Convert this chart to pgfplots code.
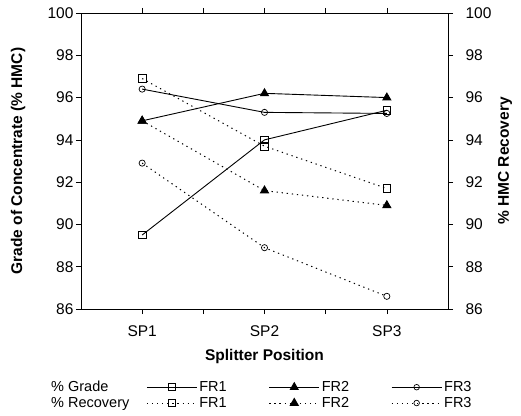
\documentclass[border=0pt]{standalone}
\usepackage{fontspec}
\setmainfont{Liberation Sans}
\usepackage{pgfplots}
\pgfplotsset{compat=1.18}
\begin{document}
\begin{tikzpicture}[x=1pt,y=1pt]
\useasboundingbox (-81,-106) rectangle (440,309);
\pgfplotsset{
  common/.style={
    scale only axis, width=367pt, height=296pt,
    at={(0,0)}, anchor=south west,
    xmin=0.5, xmax=3.5, ymin=86, ymax=100,
    ytick={86,88,...,100},
    tick align=outside, major tick length=5pt, minor tick length=5pt,
    tick style={black, line width=0.6pt},
    axis line style={line width=0.9pt},
    /pgf/number format/assume math mode=true,
    tick label style={font=\fontsize{15.5}{17}\selectfont},
    label style={font=\fontsize{15.5}{18}\selectfont\bfseries},
  },
}
\begin{axis}[common,
  axis y line*=left, axis x line*=box,
  xtick={1,2,3}, xticklabels={SP1,SP2,SP3},
  minor xtick={1.5,2.5},
  xticklabel style={yshift=-8pt},
  xlabel={Splitter Position},
  xlabel style={at={(rel axis cs:0.5,0)}, anchor=center, yshift=-47pt},
  ylabel={Grade of Concentrate (\% HMC)},
  ylabel style={at={(rel axis cs:0,0.5)}, anchor=center, yshift=63pt},
  yticklabel style={xshift=1pt},
  legend columns=4,
  legend cell align=left,
  legend style={draw=none, fill=none, at={(-35pt,-68pt)}, anchor=north west,
    font=\fontsize{14.5}{16}\selectfont, row sep=0pt,
    /tikz/column 2/.style={column sep=15pt},
    /tikz/column 4/.style={column sep=40pt},
    /tikz/column 6/.style={column sep=40pt}},
  legend image code/.code={
    \draw[#1, mark repeat=2, mark phase=2] plot coordinates {(0pt,0pt) (25pt,0pt) (50pt,0pt)};},
]
% % Grade (solid)
\addplot[black, line width=0.9pt, mark=square, mark size=3.7pt, mark options={solid, fill=white, line width=0.7pt}, forget plot]
  coordinates {(1,89.5) (2,94.0) (3,95.4)};
\addplot[black, line width=0.9pt, mark=triangle*, mark size=4.5pt, mark options={solid, fill=black}, forget plot]
  coordinates {(1,94.9) (2,96.2) (3,96.0)};
\addplot[black, line width=0.9pt, mark=o, mark size=3.1pt, mark options={solid, fill=white, line width=0.7pt}, forget plot]
  coordinates {(1,96.4) (2,95.3) (3,95.25)};
% % Recovery (dotted)
\addplot[black, line width=1pt, dash pattern=on 1.3pt off 3.8pt, mark=square, mark size=3.7pt, mark options={solid, fill=white, line width=0.7pt}, forget plot]
  coordinates {(1,96.9) (2,93.7) (3,91.7)};
\addplot[black, line width=1pt, dash pattern=on 1.3pt off 3.8pt, mark=triangle*, mark size=4.5pt, mark options={solid, fill=black}, forget plot]
  coordinates {(1,94.9) (2,91.6) (3,90.9)};
\addplot[black, line width=1pt, dash pattern=on 1.3pt off 3.8pt, mark=o, mark size=3.1pt, mark options={solid, fill=white, line width=0.7pt}, forget plot]
  coordinates {(1,92.9) (2,88.9) (3,86.6)};
% legend
\addlegendimage{empty legend}\addlegendentry{\% Grade}
\addlegendimage{black, line width=0.9pt, mark=square, mark size=3.5pt, mark options={solid, fill=white, line width=0.7pt}}\addlegendentry{FR1}
\addlegendimage{black, line width=0.9pt, mark=triangle*, mark size=4.5pt, mark options={solid, fill=black}}\addlegendentry{FR2}
\addlegendimage{black, line width=0.9pt, mark=o, mark size=2.8pt, mark options={solid, fill=white, line width=0.7pt}}\addlegendentry{FR3}
\addlegendimage{empty legend}\addlegendentry{\% Recovery}
\addlegendimage{black, line width=1pt, dash pattern=on 1.3pt off 3.8pt, mark=square, mark size=3.5pt, mark options={solid, fill=white, line width=0.7pt}}\addlegendentry{FR1}
\addlegendimage{black, line width=1pt, dash pattern=on 1.3pt off 3.8pt, mark=triangle*, mark size=4.5pt, mark options={solid, fill=black}}\addlegendentry{FR2}
\addlegendimage{black, line width=1pt, dash pattern=on 1.3pt off 3.8pt, mark=o, mark size=2.8pt, mark options={solid, fill=white, line width=0.7pt}}\addlegendentry{FR3}
\end{axis}
\begin{axis}[common,
  axis y line*=right, axis x line=none,
  ylabel={\% HMC Recovery},
  ylabel style={at={(rel axis cs:1,0.5)}, anchor=center, yshift=-57pt},
  yticklabel style={xshift=9pt},
]
\addplot[draw=none, forget plot] coordinates {(1,86) (3,100)};
\end{axis}
\end{tikzpicture}
\end{document}
